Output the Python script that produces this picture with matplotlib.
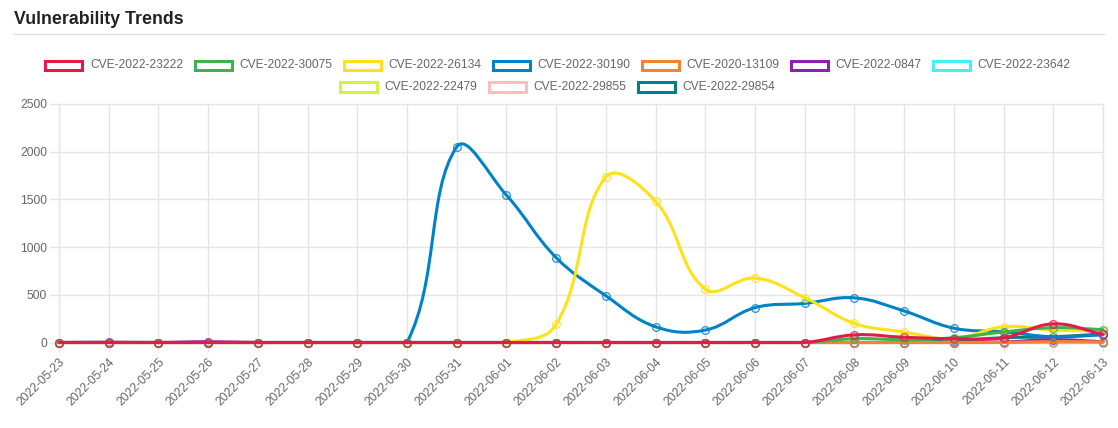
import numpy as np
import matplotlib
matplotlib.use("Agg")
import matplotlib.pyplot as plt
from matplotlib.path import Path
from matplotlib.patches import PathPatch, Rectangle
from matplotlib.lines import Line2D

# ---------------- data ----------------
dates = ['2022-05-23', '2022-05-24', '2022-05-25', '2022-05-26', '2022-05-27',
         '2022-05-28', '2022-05-29', '2022-05-30', '2022-05-31', '2022-06-01',
         '2022-06-02', '2022-06-03', '2022-06-04', '2022-06-05', '2022-06-06',
         '2022-06-07', '2022-06-08', '2022-06-09', '2022-06-10', '2022-06-11',
         '2022-06-12', '2022-06-13']

series_names = ['CVE-2022-23222', 'CVE-2022-30075', 'CVE-2022-26134', 'CVE-2022-30190',
                'CVE-2020-13109', 'CVE-2022-0847', 'CVE-2022-23642', 'CVE-2022-22479',
                'CVE-2022-29855', 'CVE-2022-29854']

cve_2022_23222 = [0, 0, 0, 0, 0, 0, 0, 0, 0, 0, 0, 0, 0, 0, 0, 0, 80, 55, 40, 50, 195, 85]
cve_2022_30075 = [0, 0, 0, 0, 0, 0, 0, 0, 0, 0, 0, 0, 0, 0, 0, 0, 40, 30, 50, 110, 155, 135]
cve_2022_26134 = [0, 0, 0, 0, 0, 0, 0, 0, 0, 0, 190, 1735, 1480, 560, 675, 470, 200, 110, 40, 165, 130, 120]
cve_2022_30190 = [0, 0, 0, 0, 0, 0, 0, 0, 2050, 1545, 890, 490, 165, 130, 365, 410, 468, 330, 150, 112, 60, 80]
cve_2020_13109 = [0, 0, 0, 0, 0, 0, 0, 0, 0, 0, 0, 0, 0, 0, 0, 0, 0, 0, 0, 0, 10, 5]
cve_2022_0847 = [0, 3, 0, 8, 0, 0, 0, 0, 0, 0, 0, 0, 0, 0, 0, 0, 0, 0, 0, 5, 30, 8]
cve_2022_23642 = [0, 0, 0, 0, 0, 0, 0, 0, 0, 0, 0, 0, 0, 0, 0, 0, 0, 0, 0, 0, 0, 0]
cve_2022_22479 = [0, 0, 0, 0, 0, 0, 0, 0, 0, 0, 0, 0, 0, 0, 0, 0, 0, 0, 0, 0, 0, 0]
cve_2022_29855 = [0, 0, 0, 0, 0, 0, 0, 0, 0, 0, 0, 0, 0, 0, 0, 0, 0, 0, 0, 0, 0, 0]
cve_2022_29854 = [0, 0, 0, 0, 0, 0, 0, 0, 0, 0, 0, 0, 0, 0, 0, 0, 0, 0, 20, 50, 60, 90]

series_values = [cve_2022_23222, cve_2022_30075, cve_2022_26134, cve_2022_30190,
                 cve_2020_13109, cve_2022_0847, cve_2022_23642, cve_2022_22479,
                 cve_2022_29855, cve_2022_29854]

colors = ['#e6194b', '#3cb44b', '#ffe119', '#0082c8', '#f58231',
          '#911eb4', '#46f0f0', '#d2f53c', '#fabebe', '#008080']

y_ticks = [0, 500, 1000, 1500, 2000, 2500]

# ---------------- layout ----------------
W, H = 1118, 428
DPI = 100
fig = plt.figure(figsize=(W / DPI, H / DPI), dpi=DPI)
fig.patch.set_facecolor('white')
plt.rcParams['font.family'] = ['Liberation Sans', 'DejaVu Sans']

def fx(px):
    return px / W

def fy(py):
    return 1 - py / H

ax_left, ax_right, ax_top, ax_bottom = 59, 1103, 104, 342.5
ax = fig.add_axes([fx(ax_left), fy(ax_bottom), fx(ax_right - ax_left), (ax_bottom - ax_top) / H])
ax.set_facecolor('white')

x = np.arange(len(dates))
ax.set_xlim(0, len(dates) - 1)
ax.set_ylim(0, 2500)

grid_c = '#e5e5e5'
ax.set_xticks(x)
ax.set_xticklabels(dates, rotation=45, ha='right', rotation_mode='anchor')
ax.set_yticks(y_ticks)
ax.set_yticklabels([str(v) for v in y_ticks])
ax.tick_params(axis='both', colors=grid_c, labelcolor='#666666', labelsize=8.64,
               length=6.5, width=1)
ax.tick_params(axis='x', pad=3)
ax.tick_params(axis='y', pad=2)
ax.grid(True, color=grid_c, linewidth=1)
ax.set_axisbelow(True)
for s in ax.spines.values():
    s.set_color(grid_c)
    s.set_linewidth(1)

fig.canvas.draw()

def spline_verts(xs, ys, t=0.4):
    pts = ax.transData.transform(np.column_stack([xs, ys]).astype(float))
    n = len(pts)
    cprev = pts.copy()
    cnext = pts.copy()
    bb = ax.bbox
    for i in range(n):
        cur = pts[i]
        prev = pts[i - 1] if i > 0 else cur
        nxt = pts[i + 1] if i < n - 1 else cur
        d01 = np.hypot(*(cur - prev))
        d12 = np.hypot(*(nxt - cur))
        s = d01 + d12
        s01 = d01 / s if s else 0
        s12 = d12 / s if s else 0
        cprev[i] = cur - t * s01 * (nxt - prev)
        cnext[i] = cur + t * s12 * (nxt - prev)
    for c in (cprev, cnext):
        c[:, 0] = np.clip(c[:, 0], bb.x0, bb.x1)
        c[:, 1] = np.clip(c[:, 1], bb.y0, bb.y1)
    verts = [pts[0]]
    codes = [Path.MOVETO]
    for i in range(n - 1):
        verts += [cnext[i], cprev[i + 1], pts[i + 1]]
        codes += [Path.CURVE4] * 3
    verts = ax.transData.inverted().transform(np.array(verts))
    return Path(verts, codes)

N = len(series_values)
for i, (vals, col) in enumerate(zip(series_values, colors)):
    z = 3 + (N - i) * 0.1
    path = spline_verts(x, vals)
    ax.add_patch(PathPatch(path, facecolor='none', edgecolor=col, lw=2.2,
                           zorder=z, clip_on=False, capstyle='round', joinstyle='round'))
    ax.plot(x, vals, linestyle='none', marker='o', markersize=5.5, markerfacecolor='none',
            markeredgecolor=col, markeredgewidth=1, zorder=z + 0.05, clip_on=False, alpha=0.8)

# ---------------- title ----------------
fig.text(fx(14), fy(19), 'Vulnerability Trends', fontsize=12.8, fontweight='bold',
         color='#222222', ha='left', va='center')
fig.add_artist(Line2D([fx(14), fx(1104)], [fy(34), fy(34)], color='#dddddd', lw=1))

# ---------------- legend ----------------
renderer = fig.canvas.get_renderer()
font_px = 12
box_w, box_h = 40, 12
gap = 10
rows = [list(range(0, 7)), list(range(7, 10))]
row_y = [65.5, 87]
center_x = 557
for r, idxs in enumerate(rows):
    widths = []
    for i in idxs:
        t = fig.text(0, 0, series_names[i], fontsize=8.64)
        widths.append(t.get_window_extent(renderer).width)
        t.remove()
    item_w = [box_w + font_px / 2 + w for w in widths]
    total = sum(item_w) + gap * (len(idxs) - 1)
    cx = center_x - total / 2
    for i, iw, tw in zip(idxs, item_w, widths):
        yc = row_y[r]
        rect = Rectangle((fx(cx + 1.5), fy(yc + box_h / 2 - 1.5)), (box_w - 3) / W, (box_h - 3) / H,
                         transform=fig.transFigure, facecolor='white', edgecolor=colors[i], lw=2.2)
        fig.add_artist(rect)
        fig.text(fx(cx + box_w + font_px / 2), fy(yc), series_names[i], fontsize=8.64,
                 color='#666666', ha='left', va='center')
        cx += iw + gap

fig.savefig('out.png', dpi=DPI, facecolor='white')
